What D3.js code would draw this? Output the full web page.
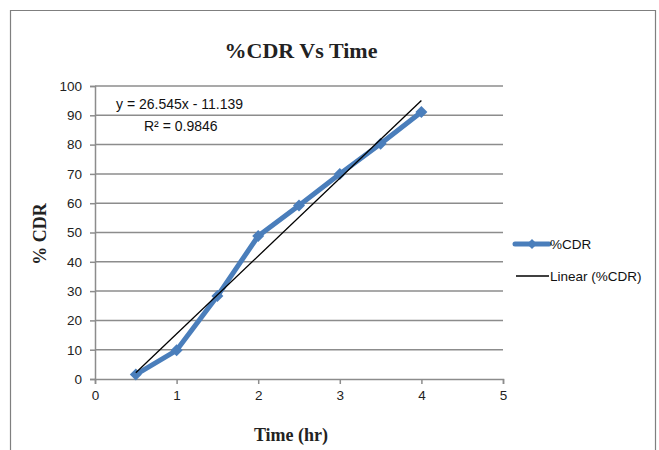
<!DOCTYPE html>
<html><head><meta charset="utf-8">
<script src="https://cdn.jsdelivr.net/npm/d3@7"></script>
<style>html,body{margin:0;padding:0;background:#fff;}</style>
</head><body>
<script>
const timeHr = [0.5, 1, 1.5, 2, 2.5, 3, 3.5, 4];
const cdr = [1.5, 9.8, 28.3, 48.8, 59.2, 70.0, 80.3, 91.1];
const xTicks = [0, 1, 2, 3, 4, 5];
const yTicks = [0, 10, 20, 30, 40, 50, 60, 70, 80, 90, 100];
const trendSlope = 26.545, trendIntercept = -11.139, rSquared = 0.9846;
const seriesNames = ["%CDR", "Linear (%CDR)"];

const W = 659, H = 450;
const svg = d3.select("body").append("svg").attr("width", W).attr("height", H);
const x = d3.scaleLinear().domain([0, 5]).range([95, 503]);
const y = d3.scaleLinear().domain([0, 100]).range([379, 86]);
const grid = "#8c8c8c";
const blue = "#4a7ebb";
const sans = "'Liberation Sans', Arial, sans-serif";
const serif = "'Liberation Serif', 'Times New Roman', serif";
const diamond = s => `M0,${-s} L${s},0 L0,${s} L${-s},0 Z`;

// outer frame (no bottom edge)
svg.append("path").attr("d", `M10.5,${H} V10.5 H655.5 V${H}`)
  .attr("fill", "none").attr("stroke", "#7f7f7f").attr("stroke-width", 1.2);

// gridlines
svg.append("g").selectAll("line").data(yTicks.filter(d => d > 0)).join("line")
  .attr("x1", x(0)).attr("x2", x(5)).attr("y1", d => y(d)).attr("y2", d => y(d))
  .attr("stroke", grid).attr("stroke-width", 1.5);

// axes
const yAxis = svg.append("g").attr("transform", `translate(${x(0)},0)`)
  .call(d3.axisLeft(y).tickValues(yTicks).tickFormat(d3.format("d")).tickSize(5).tickPadding(8));
const xAxis = svg.append("g").attr("transform", `translate(0,${y(0)})`)
  .call(d3.axisBottom(x).tickValues(xTicks).tickFormat(d3.format("d")).tickSize(5).tickPadding(6));
[yAxis, xAxis].forEach(a => {
  a.select(".domain").attr("stroke", grid).attr("stroke-width", 1.5);
  a.selectAll(".tick line").attr("stroke", grid).attr("stroke-width", 1.5);
  a.selectAll("text").attr("font-family", sans).attr("font-size", 13.5).attr("fill", "#222");
});

// series line
const pts = timeHr.map((t, i) => [t, cdr[i]]);
svg.append("path").datum(pts)
  .attr("d", d3.line().x(d => x(d[0])).y(d => y(d[1])))
  .attr("fill", "none").attr("stroke", blue).attr("stroke-width", 5).attr("stroke-linejoin", "round");
// markers
svg.append("g").selectAll("path").data(pts).join("path")
  .attr("d", diamond(6))
  .attr("transform", d => `translate(${x(d[0])},${y(d[1])})`)
  .attr("fill", blue);

// trendline
const t0 = d3.min(timeHr), t1 = d3.max(timeHr);
svg.append("line")
  .attr("x1", x(t0)).attr("y1", y(trendSlope * t0 + trendIntercept))
  .attr("x2", x(t1)).attr("y2", y(trendSlope * t1 + trendIntercept))
  .attr("stroke", "#000").attr("stroke-width", 1.3);

// equation
svg.append("text").attr("x", 116).attr("y", 109).attr("font-family", sans).attr("font-size", 14).attr("fill", "#111")
  .text(`y = ${trendSlope}x - ${Math.abs(trendIntercept)}`);
svg.append("text").attr("x", 144).attr("y", 131).attr("font-family", sans).attr("font-size", 14).attr("fill", "#111")
  .text(`R² = ${rSquared}`);

// titles
svg.append("text").attr("x", 301).attr("y", 58).attr("text-anchor", "middle")
  .attr("font-family", serif).attr("font-weight", "bold").attr("font-size", 22).attr("fill", "#222")
  .text("%CDR Vs Time");
svg.append("text").attr("x", 291).attr("y", 441).attr("text-anchor", "middle")
  .attr("font-family", serif).attr("font-weight", "bold").attr("font-size", 18).attr("fill", "#222")
  .text("Time (hr)");
svg.append("text").attr("transform", "translate(46,234) rotate(-90)").attr("text-anchor", "middle")
  .attr("font-family", serif).attr("font-weight", "bold").attr("font-size", 18).attr("fill", "#222")
  .text("% CDR");

// legend
const lg = svg.append("g");
const ly = [244, 276];
lg.append("line").attr("x1", 515).attr("x2", 549).attr("y1", ly[0]).attr("y2", ly[0])
  .attr("stroke", blue).attr("stroke-width", 5).attr("stroke-linecap", "round");
lg.append("path").attr("d", diamond(5)).attr("transform", `translate(532,${ly[0]})`).attr("fill", blue);
lg.append("line").attr("x1", 516).attr("x2", 549).attr("y1", ly[1]).attr("y2", ly[1])
  .attr("stroke", "#000").attr("stroke-width", 1.3);
lg.selectAll("text").data(seriesNames).join("text")
  .attr("x", 550).attr("y", (d, i) => ly[i] + 5)
  .attr("font-family", sans).attr("font-size", 13.5).attr("fill", "#111").text(d => d);
</script>
</body></html>
